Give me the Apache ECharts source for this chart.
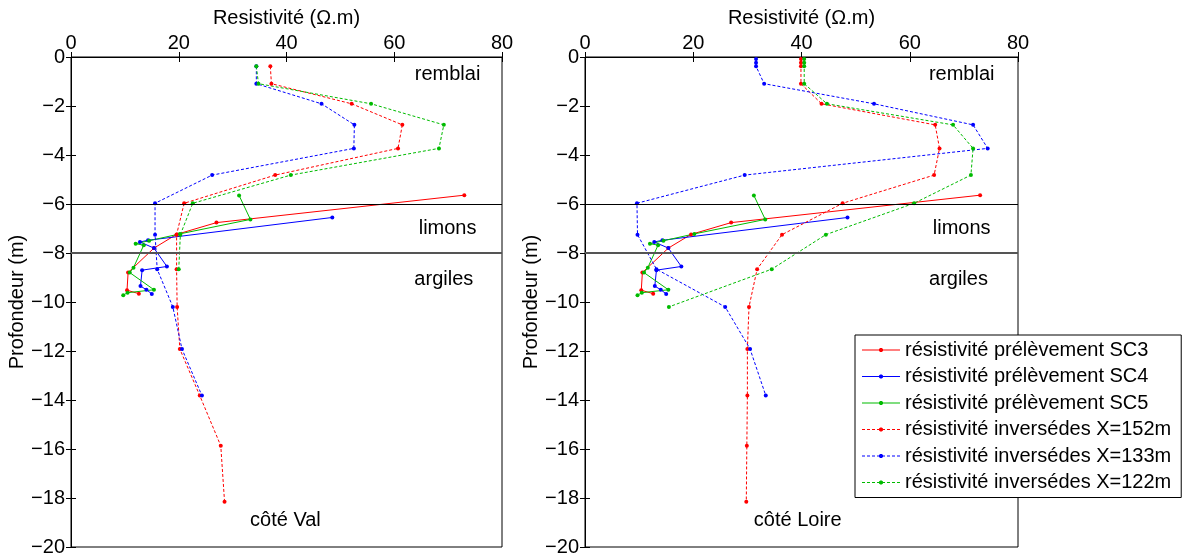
<!DOCTYPE html>
<html><head><meta charset="utf-8">
<script src="https://cdn.jsdelivr.net/npm/echarts@6/dist/echarts.min.js"></script>
<style>html,body{margin:0;padding:0;background:#fff}#c{width:1183px;height:557px}</style>
</head><body><div id="c"></div>
<script>
// ---- tick labels ----
const xTicks = [0, 20, 40, 60, 80];
const yTicks = [0, -2, -4, -6, -8, -10, -12, -14, -16, -18, -20];

// ---- series names ----
const names = [
  'résistivité prélèvement SC3',
  'résistivité prélèvement SC4',
  'résistivité prélèvement SC5',
  'résistivité inversédes X=152m',
  'résistivité inversédes X=133m',
  'résistivité inversédes X=122m'
];
const colors = ['#ff0000', '#0000ff', '#00bb00'];

// ---- sample (prélèvement) data, same in both panels ----
const sc3Res   = [73.0, 27.0, 19.6, 15.4, 10.6, 10.4, 12.6];
const sc3Depth = [-5.64, -6.76, -7.24, -7.8, -8.8, -9.52, -9.66];
const sc4Res   = [48.5, 14.3, 12.8, 15.4, 17.8, 13.2, 12.9, 14.0, 15.0];
const sc4Depth = [-6.55, -7.48, -7.55, -7.8, -8.55, -8.7, -9.35, -9.5, -9.67];
const sc5Res   = [31.2, 33.3, 20.2, 14.5, 12.0, 13.5, 11.6, 10.9, 15.4, 10.5, 9.7];
const sc5Depth = [-5.65, -6.63, -7.22, -7.5, -7.62, -7.68, -8.6, -8.8, -9.5, -9.62, -9.72];

// ---- inversion layer depths ----
const invDepth = [-0.08, -0.23, -0.38, -1.09, -1.91, -2.77, -3.73, -4.82, -5.97, -7.25, -8.66, -10.2, -11.92, -13.82, -15.87, -18.15];

// ---- left panel: côté Val (starting at invDepth[2]) ----
const val152 = [37.0, 37.2, 52.1, 61.5, 60.7, 37.9, 21.0, 19.6, 19.6, 19.7, 20.2, 23.9, 27.8, 28.5];
const val133 = [34.4, 34.4, 46.5, 52.6, 52.5, 26.2, 15.6, 15.6, 16.0, 18.9, 20.6, 24.3];
const val122 = [34.4, 34.8, 55.7, 69.2, 68.3, 40.8, 22.6, 20.3, 20.0];

// ---- right panel: côté Loire (starting at invDepth[0]) ----
const loire152 = [39.9, 39.9, 39.9, 39.9, 43.7, 64.7, 65.5, 64.5, 47.6, 36.4, 31.8, 30.3, 30.0, 30.0, 29.9, 29.8];
const loire133 = [31.6, 31.6, 31.6, 33.1, 53.4, 71.7, 74.4, 29.5, 9.6, 9.7, 13.2, 25.9, 30.5, 33.4];
const loire122 = [40.5, 40.5, 40.5, 40.5, 44.7, 68.0, 71.7, 71.3, 60.8, 44.5, 34.5, 15.5];

// ---- layer boundaries and annotations ----
const layerLines = [-6, -8];
const valLabels   = [[69.9, -0.73, 'remblai'], [69.9, -7.0, 'limons'], [69.2, -9.1, 'argiles'], [39.8, -18.9, 'côté Val']];
const loireLabels = [[69.6, -0.73, 'remblai'], [69.6, -7.0, 'limons'], [69.0, -9.1, 'argiles'], [39.3, -18.9, 'côté Loire']];

const FONT = 'Liberation Sans, Arial, sans-serif';
const zip = (xs, ys) => xs.map((x, i) => [x, ys[i]]);

function mkSeries(name, color, dashed, data, idx) {
  return {
    type: 'line', name: name, data: data,
    xAxisIndex: idx, yAxisIndex: idx,
    symbol: 'circle', symbolSize: 4, showSymbol: true,
    itemStyle: { color: color },
    lineStyle: { color: color, width: 1, type: dashed ? [3, 2] : 'solid' },
    silent: true, animation: false, z: 3
  };
}

function panelSeries(idx, r152, r133, r122, offset, labels) {
  const d = invDepth.slice(offset);
  return [
    mkSeries(names[0], colors[0], false, zip(sc3Res, sc3Depth), idx),
    mkSeries(names[1], colors[1], false, zip(sc4Res, sc4Depth), idx),
    mkSeries(names[2], colors[2], false, zip(sc5Res, sc5Depth), idx),
    mkSeries(names[3], colors[0], true, zip(r152, d), idx),
    mkSeries(names[4], colors[1], true, zip(r133, d), idx),
    mkSeries(names[5], colors[2], true, zip(r122, d), idx),
    {
      type: 'scatter', xAxisIndex: idx, yAxisIndex: idx, silent: true, animation: false,
      data: labels, symbolSize: 1, itemStyle: { color: 'rgba(0,0,0,0)', opacity: 1 },
      label: { show: true, position: 'inside', formatter: p => p.data[2],
               color: '#000', opacity: 1, fontSize: 20, fontFamily: FONT },
      markLine: {
        silent: true, symbol: ['none', 'none'], animation: false,
        label: { show: false },
        data: [
          { yAxis: layerLines[0], lineStyle: { color: '#000', width: 1, type: 'solid' } },
          { yAxis: layerLines[1], lineStyle: { color: '#555', width: 2, type: 'solid' } }
        ]
      },
      z: 2
    }
  ];
}

function legendPath(dashed) {
  let p = 'M0,0L0.01,0.01L0,0.01Z M38,14L37.99,13.99L38,13.99Z ';
  if (dashed) {
    for (let x = 0; x < 38; x += 5) {
      const x2 = Math.min(x + 3, 38);
      p += `M${x},6.5L${x2},6.5L${x2},7.5L${x},7.5Z `;
    }
  } else {
    p += 'M0,6.5L38,6.5L38,7.5L0,7.5Z ';
  }
  const cx = 19, cy = 7, r = 2.2, n = 10;
  for (let i = 0; i < n; i++) {
    const a = (i / n) * Math.PI * 2;
    p += (i === 0 ? 'M' : 'L') + (cx + r * Math.cos(a)).toFixed(2) + ',' + (cy + r * Math.sin(a)).toFixed(2);
  }
  p += 'Z';
  return 'path://' + p;
}

const xMin = xTicks[0], xMax = xTicks[xTicks.length - 1], xInt = xTicks[1] - xTicks[0];
const yMax = yTicks[0], yMin = yTicks[yTicks.length - 1], yInt = yTicks[0] - yTicks[1];
const tickLabel = v => v < 0 ? '\u2212' + Math.abs(v) : String(v);

const grids = [
  { left: 71, top: 57, width: 431, height: 492, show: true, borderColor: '#000', borderWidth: 1 },
  { left: 585, top: 57, width: 433, height: 492, show: true, borderColor: '#000', borderWidth: 1 }
];

function xAx(g, main) {
  return {
    type: 'value', gridIndex: g, min: xMin, max: xMax, interval: xInt,
    position: main ? 'top' : 'bottom',
    name: main ? 'Resistivité (Ω.m)' : '', nameLocation: 'middle', nameGap: 29,
    nameTextStyle: { color: '#000', fontSize: 20, fontFamily: FONT },
    axisLine: { show: true, lineStyle: { color: '#000', width: 1 } },
    axisTick: { show: true, inside: true, length: 5, lineStyle: { color: '#000' } },
    axisLabel: { show: main, color: '#000', fontSize: 20, fontFamily: FONT, margin: 4 },
    splitLine: { show: false }
  };
}
function yAx(g, main) {
  return {
    type: 'value', gridIndex: g, min: yMin, max: yMax, interval: yInt,
    position: main ? 'left' : 'right',
    name: main ? 'Profondeur (m)' : '', nameLocation: 'middle', nameGap: 42, nameRotate: 90,
    nameTextStyle: { color: '#000', fontSize: 20, fontFamily: FONT },
    axisLine: { show: true, lineStyle: { color: '#000', width: 1 } },
    axisTick: { show: true, inside: true, length: 5, lineStyle: { color: '#000' } },
    axisLabel: { show: main, color: '#000', fontSize: 20, fontFamily: FONT, margin: 6, formatter: tickLabel },
    splitLine: { show: false }
  };
}

const option = {
  animation: false,
  backgroundColor: '#fff',
  grid: grids,
  xAxis: [xAx(0, true), xAx(1, true), xAx(0, false), xAx(1, false)],
  yAxis: [yAx(0, true), yAx(1, true), yAx(0, false), yAx(1, false)],
  legend: {
    orient: 'vertical', left: 855, top: 335,
    backgroundColor: '#fff', borderColor: '#000', borderWidth: 1,
    padding: [5, 10, 5, 7],
    itemWidth: 38, itemHeight: 14, itemGap: 6.5,
    itemStyle: { borderWidth: 0 },
    textStyle: { color: '#000', fontSize: 20, fontFamily: FONT },
    selectedMode: false,
    data: names.map((n, i) => ({ name: n, icon: legendPath(i >= 3) })),
    z: 10
  },
  series: [].concat(
    panelSeries(0, val152, val133, val122, 2, valLabels),
    panelSeries(1, loire152, loire133, loire122, 0, loireLabels)
  )
};

const chart = echarts.init(document.getElementById('c'), null, { renderer: 'canvas' });
chart.setOption(option);
</script>
</body></html>
